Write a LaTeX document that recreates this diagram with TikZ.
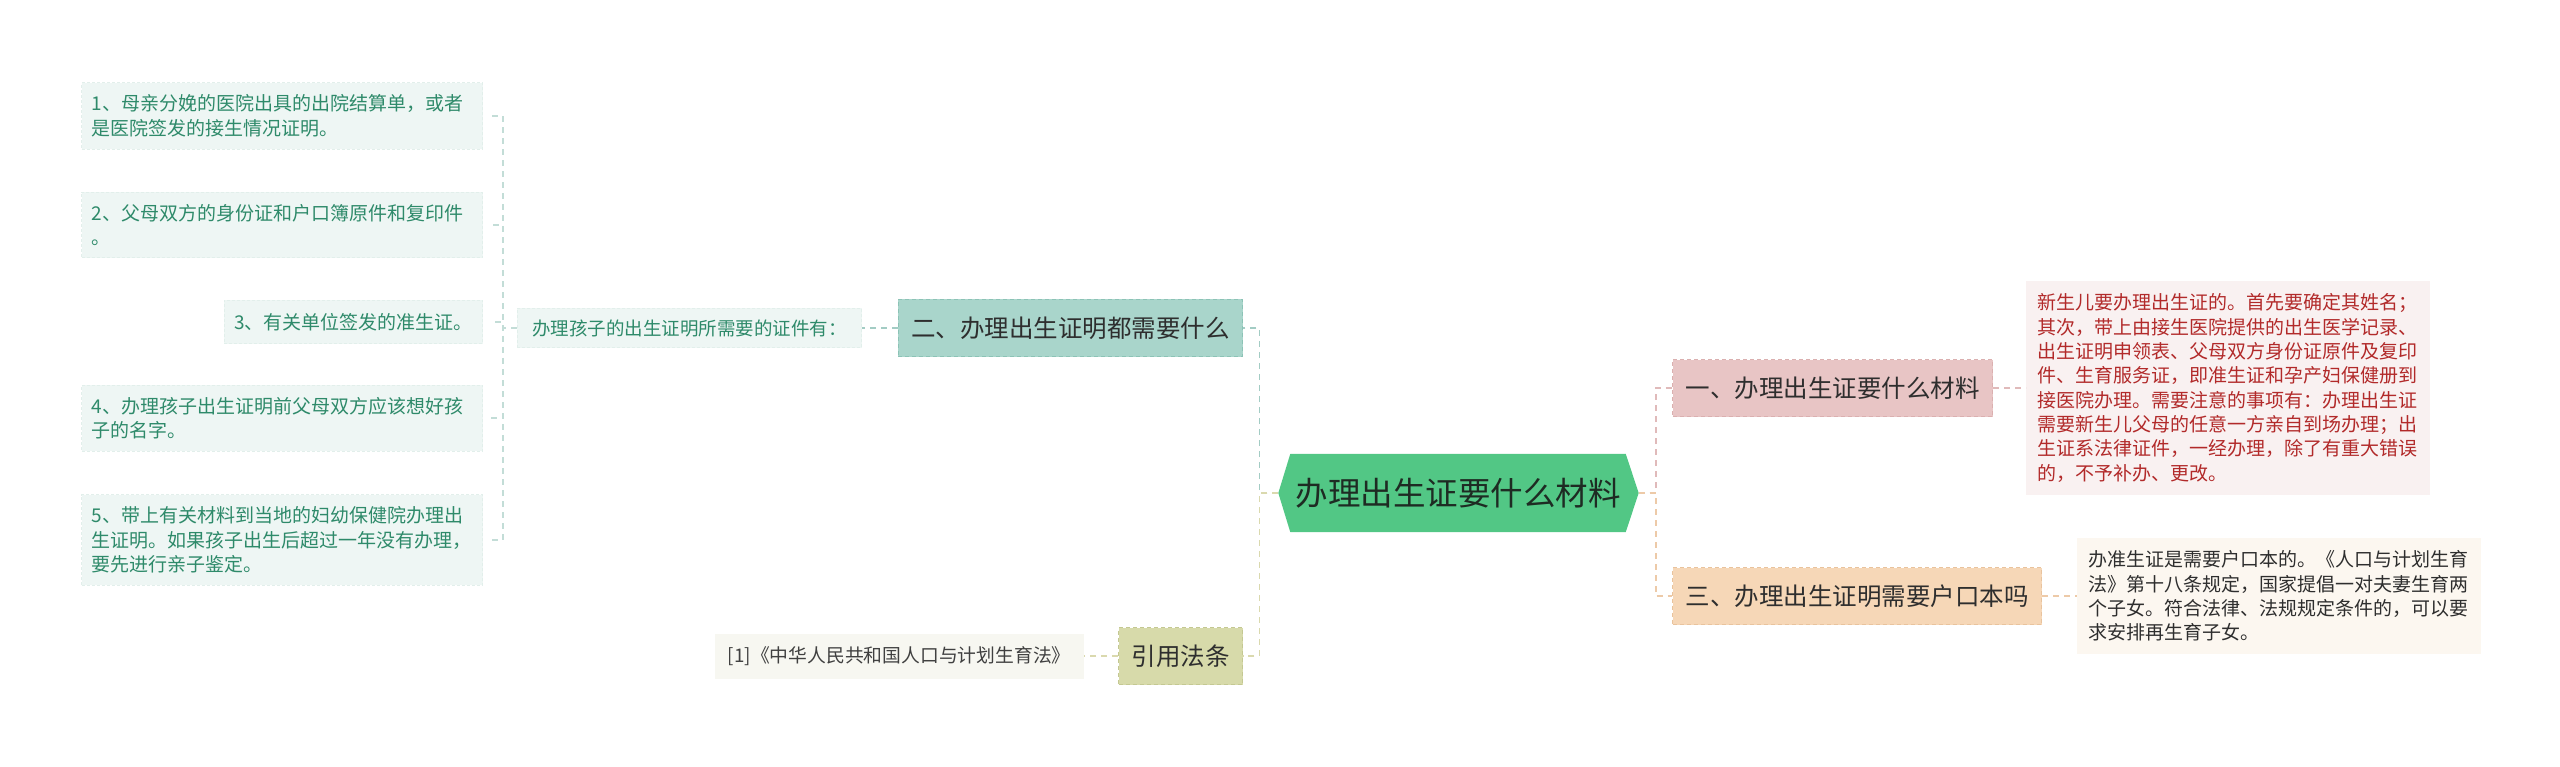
\documentclass[tikz,border=0pt]{standalone}
\usepackage{fontspec}
\setmainfont{Noto Sans CJK SC}
\usepackage{xcolor}
\usetikzlibrary{positioning, backgrounds, calc}
\definecolor{rootgreen}{HTML}{52C785}
\definecolor{roottext}{HTML}{1E2B23}
\definecolor{tealfill}{HTML}{A9D5CB}
\definecolor{tealdraw}{HTML}{8CC3B6}
\definecolor{tealline}{HTML}{A3CCC4}
\definecolor{mintfill}{HTML}{EEF6F4}
\definecolor{mintdraw}{HTML}{E2EFEB}
\definecolor{mintline}{HTML}{C3DDD7}
\definecolor{minttext}{HTML}{2E8A6A}
\definecolor{olivefill}{HTML}{D7DAAA}
\definecolor{olivedraw}{HTML}{C4C892}
\definecolor{oliveline}{HTML}{DAD9AE}
\definecolor{ivoryfill}{HTML}{F7F7F1}
\definecolor{pinkfill}{HTML}{E8C5C5}
\definecolor{pinkdraw}{HTML}{DBB0B0}
\definecolor{pinkline}{HTML}{E0BABA}
\definecolor{rosefill}{HTML}{F9F1F1}
\definecolor{rosetext}{HTML}{B22A2A}
\definecolor{peachfill}{HTML}{F6D7B7}
\definecolor{peachdraw}{HTML}{E9C39D}
\definecolor{peachline}{HTML}{EDCAA8}
\definecolor{creamfill}{HTML}{FCF7F0}
\tikzset{
  rootnode/.style={rectangle, minimum width=335pt, minimum height=78pt, inner sep=0pt, text=roottext, font=\fontsize{32.5}{36}\selectfont},
  topic/.style={rectangle, fill=#1fill, draw=#1draw, dash pattern=on 4pt off 3pt, line width=1pt, minimum height=57pt, inner xsep=13pt, inner ysep=0pt, text=black!82, font=\fontsize{24.5}{28}\selectfont},
  leaf/.style={rectangle, fill=mintfill, draw=mintdraw, dash pattern=on 3pt off 2pt, line width=0.8pt, inner xsep=10pt, inner ysep=12pt, align=left, text=minttext, font=\fontsize{19}{24.5}\selectfont},
  note/.style={rectangle, fill=#1, inner xsep=11pt, inner ysep=13pt, align=left, text width=382pt, font=\fontsize{19}{24.3}\selectfont},
  link/.style={draw=#1, dash pattern=on 6pt off 5pt, line width=1.6pt},
}
\begin{document}
\begin{tikzpicture}[x=1pt, y=-1pt]
  \useasboundingbox (0,0) rectangle (2560,767);

  % centre
  \node[rootnode] (root) at (1458,493) {办理出生证要什么材料};
  \begin{scope}[on background layer]
    \fill[rootgreen] (root.north west) -- (root.north east) -- ([xshift=13pt]root.east) -- (root.south east) -- (root.south west) -- ([xshift=-12pt]root.west) -- cycle;
  \end{scope}

  % left branches
  \node[topic=teal, anchor=east] (howto) at (1243,328) {二、办理出生证明都需要什么};
  \node[leaf, fill=mintfill, draw=mintdraw, font=\fontsize{18.5}{22}\selectfont, inner xsep=15pt, inner ysep=11pt, anchor=east] (req) at (862,328) {办理孩子的出生证明所需要的证件有：};
  \node[leaf, text width=381pt, anchor=east] (c1) at (483,116) {1、母亲分娩的医院出具的出院结算单，或者\\是医院签发的接生情况证明。};
  \node[leaf, text width=381pt, anchor=east] (c2) at (483,225) {2、父母双方的身份证和户口簿原件和复印件\\。};
  \node[leaf, inner ysep=13pt, anchor=east] (c3) at (483,322) {3、有关单位签发的准生证。};
  \node[leaf, text width=381pt, anchor=east] (c4) at (483,418) {4、办理孩子出生证明前父母双方应该想好孩\\子的名字。};
  \node[leaf, text width=381pt, anchor=east] (c5) at (483,540) {5、带上有关材料到当地的妇幼保健院办理出\\生证明。如果孩子出生后超过一年没有办理，\\要先进行亲子鉴定。};
  \node[topic=olive, anchor=east] (law) at (1243,656) {引用法条};
  \node[rectangle, fill=ivoryfill, minimum width=369pt, minimum height=45pt, text=black!75, font=\fontsize{18.8}{22}\selectfont, anchor=east] (ref) at (1084,656) {[1]《中华人民共和国人口与计划生育法》};

  % right branches
  \node[topic=pink, anchor=west] (what) at (1672,388) {一、办理出生证要什么材料};
  \node[topic=peach, anchor=west] (hukou) at (1672,596) {三、办理出生证明需要户口本吗};
  \node[note=rosefill, text=rosetext, anchor=west] (whatnote) at (2026,388) {新生儿要办理出生证的。首先要确定其姓名；\\
其次，带上由接生医院提供的出生医学记录、\\
出生证明申领表、父母双方身份证原件及复印\\
件、生育服务证，即准生证和孕产妇保健册到\\
接医院办理。需要注意的事项有：办理出生证\\
需要新生儿父母的任意一方亲自到场办理；出\\
生证系法律证件，一经办理，除了有重大错误\\
的，不予补办、更改。};
  \node[note=creamfill, text=black!82, anchor=west] (hukounote) at (2077,596) {办准生证是需要户口本的。《人口与计划生育\\
法》第十八条规定，国家提倡一对夫妻生育两\\
个子女。符合法律、法规规定条件的，可以要\\
求安排再生育子女。};

  % connectors
  \draw[link=tealline] ([xshift=-12pt]root.west) -- ++(-19,0) |- (howto.east);
  \draw[link=oliveline] ([xshift=-12pt]root.west) -- ++(-19,0) |- (law.east);
  \draw[link=pinkline] ([xshift=13pt]root.east) -- ++(17,0) |- (what.west);
  \draw[link=peachline] ([xshift=13pt]root.east) -- ++(17,0) |- (hukou.west);
  \draw[link=tealline] (howto.west) -- (req.east);
  \foreach \i in {1,...,5}
    \draw[link=mintline] (req.west) -- ++(-14,0) |- ([xshift=7pt]c\i.east);
  \draw[link=oliveline] (law.west) -- (ref.east);
  \draw[link=pinkline] (what.east) -- (whatnote.west);
  \draw[link=peachline] (hukou.east) -- (hukounote.west);
\end{tikzpicture}
\end{document}
